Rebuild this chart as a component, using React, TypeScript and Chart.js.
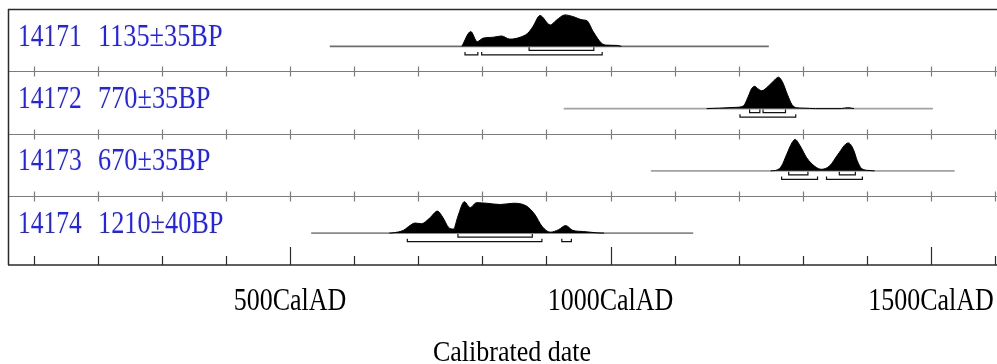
import React, { useEffect, useRef } from "react";
import { Chart, registerables } from "chart.js";

Chart.register(...registerables);

// ---- labels ----
const sampleIds = ["14171", "14172", "14173", "14174"];
const bpDates = ["1135±35BP", "770±35BP", "670±35BP", "1210±40BP"];

// ---- x axis ----
const xMin = 60;
const xMax = 1603;
const tickYears = [100, 200, 300, 400, 500, 600, 700, 800, 900, 1000, 1100, 1200, 1300, 1400, 1500, 1600];
const labelYears = [500, 1000, 1500];
const tickLabels = ["500CalAD", "1000CalAD", "1500CalAD"];
const axisTitle = "Calibrated date";

// ---- calibration curve extents (cal AD) ----
const curveStart = [562, 927, 1063, 533];
const curveEnd = [1247, 1503, 1537, 1129];

// ---- probability distributions (relative density) ----
const yrs14171 = [768, 782, 792, 801, 817, 830, 843, 859, 871, 879, 890, 906, 916, 929, 941, 957, 963, 973, 986, 994, 1010, 1017];
const den14171 = [0, 0.47, 0.15, 0.26, 0.29, 0.33, 0.23, 0.29, 0.42, 0.63, 0.98, 0.68, 0.84, 1.0, 0.95, 0.84, 0.82, 0.47, 0.1, 0.04, 0.03, 0];

const yrs14172 = [1150, 1170, 1195, 1207, 1215, 1220, 1225, 1230, 1236, 1246, 1255, 1262, 1268, 1276, 1283, 1290, 1301, 1320, 1360, 1370, 1380];
const den14172 = [0, 0.015, 0.04, 0.08, 0.39, 0.63, 0.71, 0.63, 0.57, 0.71, 0.89, 1.0, 0.86, 0.45, 0.13, 0.03, 0.015, 0, 0, 0.03, 0];

const yrs14173 = [1250, 1260, 1267, 1275, 1283, 1288, 1296, 1306, 1319, 1329, 1342, 1355, 1371, 1379, 1385, 1392, 1405, 1412];
const den14173 = [0, 0.03, 0.16, 0.53, 0.89, 1.0, 0.79, 0.42, 0.14, 0.05, 0.16, 0.53, 0.89, 0.68, 0.32, 0.07, 0.01, 0];

const yrs14174 = [655, 661, 677, 687, 695, 705, 718, 730, 739, 747, 755, 762, 772, 781, 791, 807, 828, 848, 869, 882, 893, 906, 919, 930, 941, 958, 978, 990];
const den14174 = [0, 0.01, 0.09, 0.24, 0.32, 0.3, 0.48, 0.7, 0.48, 0.19, 0.13, 0.54, 1.0, 0.81, 0.97, 0.95, 0.91, 0.95, 0.86, 0.59, 0.22, 0.03, 0.11, 0.24, 0.09, 0.05, 0.01, 0];

// ---- calibrated ranges (cal AD) ----
const r68_14171 = [[873, 974]];
const r95_14171 = [[773, 793], [799, 987]];
const r68_14172 = [[1217, 1233], [1238, 1273]];
const r95_14172 = [[1202, 1289]];
const r68_14173 = [[1278, 1308], [1357, 1382]];
const r95_14173 = [[1267, 1323], [1337, 1393]];
const r68_14174 = [[762, 878]];
const r95_14174 = [[683, 893], [924, 939]];

const rowYears = [yrs14171, yrs14172, yrs14173, yrs14174];
const rowDens = [den14171, den14172, den14173, den14174];
const row68 = [r68_14171, r68_14172, r68_14173, r68_14174];
const row95 = [r95_14171, r95_14172, r95_14173, r95_14174];

// layout constants (style only)
const Y_MIN = -0.512;
const Y_MAX = 3.6;
const PEAK = 0.505;
const OFF68 = 0.064;
const OFF95 = 0.137;
const BTICK = 0.048;
const curveColors = ["#6e6e6e", "#a2a2a2", "#a2a2a2", "#8a8a8a"];
const SEPARATORS = [2.6, 1.6, 0.6];

function drawText(ctx: CanvasRenderingContext2D, text: string, x: number, y: number, size: number, sy: number, align: CanvasTextAlign, color: string) {
  ctx.save();
  ctx.translate(x, y);
  ctx.scale(1, sy);
  ctx.font = `${size}px "Liberation Serif", "Times New Roman", serif`;
  ctx.textAlign = align;
  ctx.textBaseline = "alphabetic";
  ctx.fillStyle = color;
  ctx.fillText(text, 0, 0);
  ctx.restore();
}

const framePlugin = {
  id: "oxcalFrame",
  beforeDatasetsDraw(chart: any) {
    const { ctx, chartArea: a, scales } = chart;
    const xs = scales.x;
    const ys = scales.y;
    ctx.save();
    ctx.strokeStyle = "#7c7c7c";
    ctx.lineWidth = 1.2;
    for (const v of SEPARATORS) {
      const py = Math.round(ys.getPixelForValue(v)) + 0.5;
      ctx.beginPath();
      ctx.moveTo(a.left, py);
      ctx.lineTo(a.right, py);
      ctx.stroke();
      for (const t of tickYears) {
        const px = Math.round(xs.getPixelForValue(t)) + 0.5;
        ctx.beginPath();
        ctx.moveTo(px, py - 5);
        ctx.lineTo(px, py + 5);
        ctx.stroke();
      }
    }
    ctx.restore();
  },
  afterDraw(chart: any) {
    const { ctx, chartArea: a, scales } = chart;
    const xs = scales.x;
    const ys = scales.y;
    ctx.save();
    ctx.strokeStyle = "#2b2b2b";
    ctx.lineWidth = 1.5;
    ctx.beginPath();
    ctx.moveTo(a.left, a.top + 0.5);
    ctx.lineTo(a.right, a.top + 0.5);
    ctx.moveTo(a.left + 0.5, a.top);
    ctx.lineTo(a.left + 0.5, a.bottom);
    ctx.moveTo(a.left, a.bottom);
    ctx.lineTo(a.right, a.bottom);
    ctx.stroke();
    ctx.lineWidth = 1.2;
    for (const t of tickYears) {
      const px = Math.round(xs.getPixelForValue(t)) + 0.5;
      const len = labelYears.includes(t) ? 18 : 9;
      ctx.beginPath();
      ctx.moveTo(px, a.bottom);
      ctx.lineTo(px, a.bottom - len);
      ctx.stroke();
    }
    ctx.restore();

    for (let i = 0; i < sampleIds.length; i++) {
      const by = ys.getPixelForValue(3 - i) - 0.5;
      drawText(ctx, sampleIds[i], 18, by, 25.5, 1.22, "left", "#1f1fff");
      drawText(ctx, bpDates[i], 98, by, 26.3, 1.2, "left", "#1f1fff");
    }
    for (let i = 0; i < labelYears.length; i++) {
      drawText(ctx, tickLabels[i], xs.getPixelForValue(labelYears[i]), 309.5, 26, 1.22, "center", "#000");
    }
    drawText(ctx, axisTitle, 512, 361, 26, 1.15, "center", "#000");
  },
};

export default function App() {
  const ref = useRef<HTMLCanvasElement | null>(null);

  useEffect(() => {
    document.body.style.margin = "0";
    document.body.style.overflow = "hidden";
    const canvas = ref.current;
    if (!canvas) return;

    const datasets: any[] = [];
    for (let i = 0; i < 4; i++) {
      const base = 3 - i;
      datasets.push({
        data: [
          { x: curveStart[i], y: base },
          { x: curveEnd[i], y: base },
        ],
        borderColor: curveColors[i],
        borderWidth: 1.6,
        pointRadius: 0,
        fill: false,
        order: 3,
      });
      datasets.push({
        data: rowYears[i].map((yr, k) => ({ x: yr, y: base + rowDens[i][k] * PEAK })),
        borderColor: "#000",
        backgroundColor: "#000",
        borderWidth: 1,
        pointRadius: 0,
        cubicInterpolationMode: "monotone",
        fill: { value: base },
        order: 2,
      });
      const addBrackets = (ranges: number[][], off: number) => {
        for (const [s, e] of ranges) {
          const ly = base - off;
          datasets.push({
            data: [
              { x: s, y: ly + BTICK },
              { x: s, y: ly },
              { x: e, y: ly },
              { x: e, y: ly + BTICK },
            ],
            borderColor: "#111",
            borderWidth: 1.2,
            pointRadius: 0,
            fill: false,
            tension: 0,
            order: 1,
          });
        }
      };
      addBrackets(row68[i], OFF68);
      addBrackets(row95[i], OFF95);
    }

    const chart = new Chart(canvas, {
      type: "line",
      data: { datasets },
      options: {
        responsive: false,
        animation: false,
        devicePixelRatio: 1,
        layout: { padding: { left: 8, top: 9, right: 0, bottom: 99 } },
        scales: {
          x: { type: "linear", min: xMin, max: xMax, display: false },
          y: { type: "linear", min: Y_MIN, max: Y_MAX, display: false },
        },
        plugins: {
          legend: { display: false },
          tooltip: { enabled: false },
        },
        events: [],
      },
      plugins: [framePlugin],
    } as any);

    return () => chart.destroy();
  }, []);

  return (
    <div style={{ width: 997, height: 364, background: "#fff" }}>
      <canvas ref={ref} width={997} height={364} style={{ display: "block" }} />
    </div>
  );
}
